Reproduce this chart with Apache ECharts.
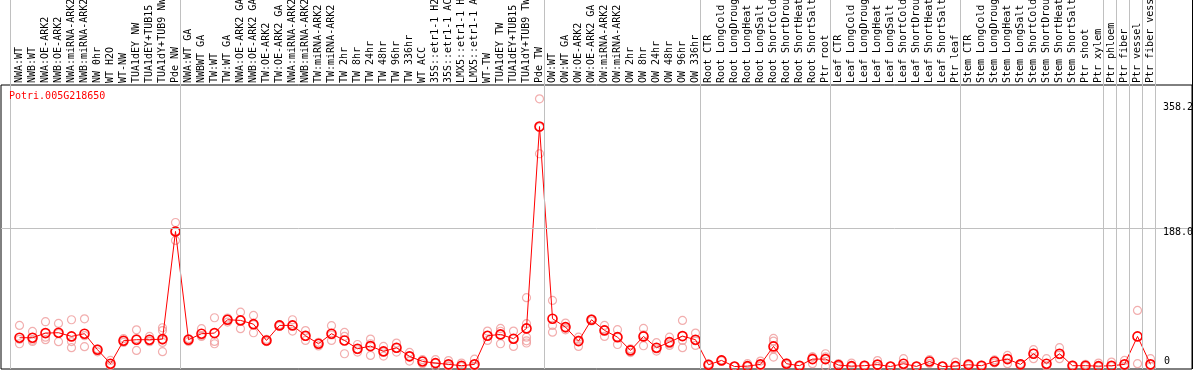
<!DOCTYPE html>
<html>
<head>
<meta charset="utf-8">
<script src="https://cdn.jsdelivr.net/npm/echarts/dist/echarts.min.js"></script>
<style>
html,body{margin:0;padding:0;background:#fff;}
#chart{width:1194px;height:370px;}
</style>
</head>
<body>
<div id="chart"></div>
<script>
const geneTitle = 'Potri.005G218650';

const categories = [
 'NWA:WT','NWB:WT','NWA:OE-ARK2','NWB:OE-ARK2','NWA:miRNA-ARK2','NWB:miRNA-ARK2','NW 0hr','WT H2O','WT-NW','TUA1dEY NW',
 'TUA1dEY+TUB15 NW','TUA1dY+TUB9 NW','Pde NW','NWA:WT GA','NWBWT GA','TW:WT','TW:WT GA','NWA:OE-ARK2 GA','NWB:OE-ARK2 GA','TW:OE-ARK2',
 'TW:OE-ARK2 GA','NWA:miRNA-ARK2','NWB:miRNA-ARK2','TW:miRNA-ARK2','TW:miRNA-ARK2','TW 2hr','TW 8hr','TW 24hr','TW 48hr','TW 96hr',
 'TW 336hr','WT ACC','35S::etr1-1 H2O','35S::etr1-1 ACC','LMX5::etr1-1 H2O','LMX5::etr1-1 ACC','WT-TW','TUA1dEY TW','TUA1dEY+TUB15 TW','TUA1dY+TUB9 TW',
 'Pde TW','OW:WT','OW:WT GA','OW:OE-ARK2','OW:OE-ARK2 GA','OW:miRNA-ARK2','OW:miRNA-ARK2','OW 2hr','OW 8hr','OW 24hr',
 'OW 48hr','OW 96hr','OW 336hr','Root CTR','Root LongCold','Root LongDrought','Root LongHeat','Root LongSalt','Root ShortCold','Root ShortDrought',
 'Root ShortHeat','Root ShortSalt','Ptr root','Leaf CTR','Leaf LongCold','Leaf LongDrought','Leaf LongHeat','Leaf LongSalt','Leaf ShortCold','Leaf ShortDrought',
 'Leaf ShortHeat','Leaf ShortSalt','Ptr leaf','Stem CTR','Stem LongCold','Stem LongDrought','Stem LongHeat','Stem LongSalt','Stem ShortCold','Stem ShortDrought',
 'Stem ShortHeat','Stem ShortSalt','Ptr shoot','Ptr xylem','Ptr phloem','Ptr fiber','Ptr vessel','Ptr fiber vessel'
];

const means = [
 39.2,39.2,45.5,46,41,44.7,22.9,3.8,35.1,36.5,
 36.5,37.3,184,36.5,44.7,45.5,63.7,62.8,57.7,35.5,
 56,56,41.9,31,44.7,35.5,24.2,27.8,20.6,25.6,
 13.8,6.9,4.6,2.9,1.1,2.9,41.9,43.7,37.9,51.9,
 326.9,65.1,53.7,34.6,63.7,49.2,40,21.9,41,25.6,
 33.2,41.4,36.5,2.4,8.3,0,0.5,2.9,27.4,3.8,
 1.1,10.1,10.1,1.9,0.5,1.1,2.6,0,3.8,0.1,
 6.9,0,0.5,2.4,1.1,6.9,10.1,2.9,17.4,3.8,
 17.4,1.1,1.1,0.5,1,2.9,41,2.9
];

const rep1 = [
 56,47.8,61,58.7,63.7,65,24,8.3,37.9,50,
 41,52.8,196.2,38,51.5,66.4,65.9,74,69.6,34,
 57,63.7,49,28,55.6,46.4,30,37.3,27.4,31.9,
 19.2,9.3,9.3,8,4.6,10,48.2,51.9,48.2,93.7,
 364.6,90,59.1,40,65,56,50.1,24,51.9,32.4,
 40,62.8,45.5,3.5,9,0.5,3.8,7.4,38.3,5,
 1.5,12.8,17.4,4,4.6,2,8,0.5,10.6,0.5,
 9.3,0.5,6,4,2,9,15.1,4,22.9,10.6,
 25.6,2,3,4.6,6,8.3,76.4,10.6
];
const rep2 = [
 31,34.2,36.5,33.8,25.6,27,20,1.5,32.8,21.9,
 33.8,49,171.7,34,41,34.2,60.5,51.5,46,37,
 55,48.2,35.5,33,35.5,17.4,19.6,15.1,14.2,19.6,
 7.4,3.8,0,0,0,0,35.5,31,27.4,58.3,
 289.8,56,50,27.4,62,41,30,19,28.3,21,
 28.7,35.5,28.7,1.5,7.5,0,0,0.5,34.6,2.5,
 0.5,3.8,13,0.5,0,0.5,0,0,0.5,0,
 4,0,0,1,0.5,5,3.8,2,10.6,0,
 10.6,0.5,0.5,0,0,0,3.8,0
];
const rep3 = [
 37,36,40,45,34,42,23,2,35,38,
 35,32.8,184,37,42,31,64,63,57,35,
 56,56,41,31,43,41,23,31,20,25,
 14,7,4.5,1,0,0,42,48,38,40,
 326,46.8,52,36,64,50,40,22,43,24,
 31,25.6,35,2,8.5,0,0,1,12.8,4,
 1.2,13,0,1,0,1,0,0,1,0,
 7,0,0,2,1,7,11,3,18,1,
 16,1,0,0,null,null,null,null
];
// extra replicates: [category index, value]
const extraReps = [[11,20.2],[11,36],[39,35],[39,32],[58,24]];

// last category index of each sample group (separators drawn after them)
const groupEnds = [12,40,52,62,72,83,84,85,86,87];

const yTickValues = [0,188,358.2];
const yTickLabels = ['0','188.0','358.2'];

// ---- layout ----
const PX = 13;                 // px per category
const X_MIN = (1 - 19.5) / PX;
const X_MAX = (1192 - 19.5) / PX;
const PY = 138 / 188;          // px per unit
const Y_MIN = (366.5 - 369) / PY;
const Y_MAX = (366.5 - 85) / PY;

const separators = [-9 / PX].concat(groupEnds.map(e => e + 5 / PX));

const repPoints = [];
[rep1, rep2, rep3].forEach(arr => arr.forEach((v, i) => { if (v !== null) repPoints.push([i, v]); }));
extraReps.forEach(p => repPoints.push([p[0], p[1]]));

const monoFont = 'DejaVu Sans Mono';

const chart = echarts.init(document.getElementById('chart'), null, {renderer: 'canvas'});
chart.setOption({
  animation: false,
  backgroundColor: '#ffffff',
  title: {
    text: geneTitle, left: 9, top: 91, padding: 0,
    textStyle: {color: '#ff0000', fontSize: 10, fontFamily: monoFont, fontWeight: 'normal'}
  },
  grid: [
    {left: 1, right: 2, top: 85, bottom: 1, show: true, borderColor: '#000', borderWidth: 1, backgroundColor: 'transparent', outerBoundsMode: 'none', containLabel: false},
    {left: 1, right: 2, top: 0, bottom: 1, outerBoundsMode: 'none', containLabel: false},
    {left: 13, right: 37, top: 85, bottom: 1, outerBoundsMode: 'none', containLabel: false}
  ],
  xAxis: [
    {type: 'value', gridIndex: 0, min: X_MIN, max: X_MAX, show: false},
    {type: 'value', gridIndex: 1, min: X_MIN, max: X_MAX, show: false},
    {type: 'category', gridIndex: 2, position: 'top', data: categories, boundaryGap: true,
     axisLine: {show: false}, axisTick: {show: false}, splitLine: {show: false},
     axisLabel: {interval: 0, rotate: 90, margin: 2, fontSize: 10, fontFamily: monoFont, color: '#000', hideOverlap: false}}
  ],
  yAxis: [
    {type: 'value', gridIndex: 0, min: Y_MIN, max: Y_MAX, show: false},
    {type: 'value', gridIndex: 1, min: 0, max: 1, show: false},
    {type: 'value', gridIndex: 2, min: 0, max: 1, show: false}
  ],
  series: [
    {
      type: 'line', xAxisIndex: 1, yAxisIndex: 1, data: [[0, 0.5]], symbol: 'none',
      lineStyle: {opacity: 0}, silent: true, z: 1,
      markLine: {
        silent: true, symbol: 'none', animation: false,
        label: {show: false},
        lineStyle: {color: '#c0c0c0', width: 1, type: 'solid'},
        data: separators.map(v => ({xAxis: v})).concat([{xAxis: X_MAX, lineStyle: {color: '#000', width: 1, type: 'solid'}}])
      }
    },
    {
      type: 'scatter', xAxisIndex: 0, yAxisIndex: 0, data: repPoints,
      symbol: 'circle', symbolSize: 8, silent: true, z: 2,
      itemStyle: {color: 'rgba(0,0,0,0)', borderColor: '#ef9a9a', borderWidth: 1.2}
    },
    {
      type: 'line', xAxisIndex: 0, yAxisIndex: 0,
      data: means.map((v, i) => [i, v]),
      showAllSymbol: true, symbol: 'circle', symbolSize: 9, z: 3,
      lineStyle: {color: '#ff0000', width: 1},
      itemStyle: {color: 'rgba(0,0,0,0)', borderColor: '#ff0000', borderWidth: 1.6},
      markLine: {
        silent: true, symbol: 'none', animation: false,
        data: yTickValues.map((v, k) => ({
          yAxis: v,
          lineStyle: {color: v === 188 ? '#c0c0c0' : 'rgba(0,0,0,0)', width: 1, type: 'solid'},
          label: {
            show: true, formatter: yTickLabels[k], position: 'insideEndBottom',
            align: 'left', verticalAlign: 'middle',
            distance: v === 0 ? [28, -4.8] : [29, 4],
            color: '#000', fontSize: 10, fontFamily: monoFont
          }
        }))
      }
    }
  ]
});
</script>
</body>
</html>
